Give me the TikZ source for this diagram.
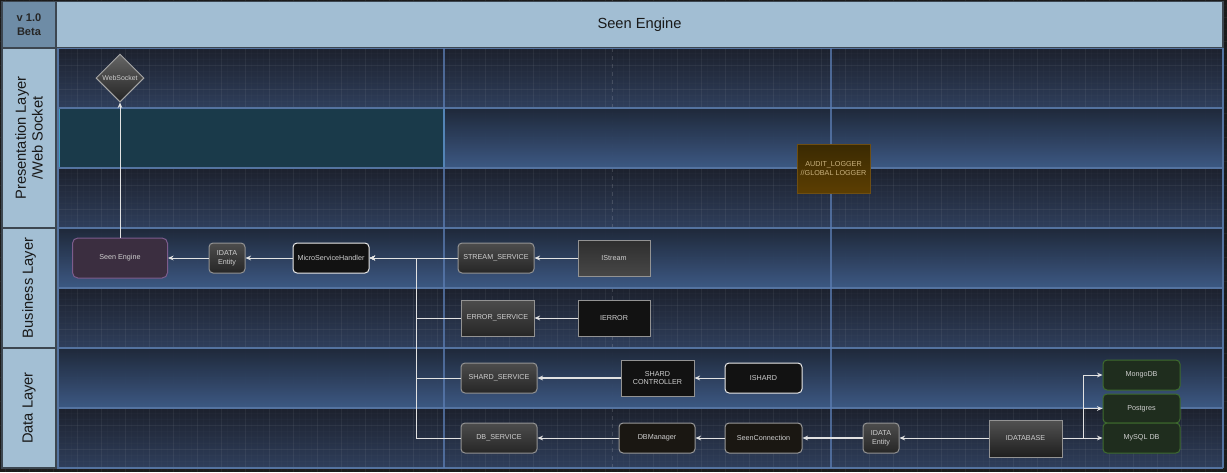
\documentclass[tikz,border=0pt]{standalone}
\usepackage{fontspec}
\setmainfont{Liberation Sans}
\usetikzlibrary{shapes.geometric,arrows.meta}

\definecolor{pagebg}{HTML}{1B1B1B}
\definecolor{hdrfill}{HTML}{A2BED3}
\definecolor{verfill}{HTML}{6E8CA6}
\definecolor{lanefill}{HTML}{A3BFD4}
\definecolor{framec}{HTML}{3C4650}
\definecolor{darktop}{HTML}{1C212D}
\definecolor{darkbot}{HTML}{2F3F5C}
\definecolor{bluetop}{HTML}{1F293B}
\definecolor{bluebot}{HTML}{3E5B87}
\definecolor{rowline}{HTML}{5473A0}
\definecolor{colline}{HTML}{5B7DB3}
\definecolor{tealfill}{HTML}{1A3A4A}
\definecolor{tealline}{HTML}{3C9CC0}
\definecolor{nodetext}{HTML}{CFCFCF}
\definecolor{wire}{HTML}{E2E2E2}
\definecolor{purplefill}{HTML}{3B2E40}
\definecolor{purpleline}{HTML}{7D5C8C}
\definecolor{greenfill}{HTML}{1F2D1E}
\definecolor{greenline}{HTML}{3E6B2E}
\definecolor{brownfill}{HTML}{1A1712}
\definecolor{audittop}{HTML}{3A2A02}
\definecolor{auditbot}{HTML}{5C3E02}
\definecolor{auditline}{HTML}{6E4E12}
\definecolor{audittext}{HTML}{CAB27E}

\tikzset{
  box/.style={inner sep=0pt, align=center, text=nodetext,
    font=\fontsize{5.4pt}{6.6pt}\selectfont, line width=0.75pt},
  graybox/.style={box, draw=gray!85, top color=black!70, bottom color=black!85},
  grayup/.style={box, draw=gray!85, top color=black!82, bottom color=black!72},
  blackbox/.style={box, draw=gray!85, fill=black!93},
  whitebox/.style={box, draw=white!92!black, fill=black!93, rounded corners=3pt},
  roundgray/.style={graybox, rounded corners=3pt},
  brownbox/.style={box, draw=gray!80, fill=brownfill, rounded corners=3pt},
  greenbox/.style={box, draw=greenline, fill=greenfill, rounded corners=3pt},
  conn/.style={draw=wire, line width=0.7pt, -{Stealth[length=4.2pt,width=3.6pt]}},
  thickconn/.style={conn, line width=1.1pt},
  lanelabel/.style={rotate=90, align=center, text=black!90,
    font=\fontsize{11pt}{12.5pt}\selectfont},
}

\begin{document}
\begin{tikzpicture}[x=0.75pt,y=-0.75pt]
\useasboundingbox (0,0) rectangle (1227,472);
\fill[pagebg] (0,0) rectangle (1227,472);

% ---- swimlane rows (dark rows with grid, blue rows on top) ----
\foreach \t in {48,168,288,408}
  \shade[top color=darktop, bottom color=darkbot] (56,\t) rectangle (1223,\t+60);
\begin{scope}
  \clip (0,0) rectangle (1227,472);
  \foreach \x in {5,11,...,1227} \draw[white, opacity=0.015, line width=0.5pt] (\x,0) -- (\x,472);
  \foreach \y in {5,11,...,472} \draw[white, opacity=0.015, line width=0.5pt] (0,\y) -- (1227,\y);
  \foreach \x in {5,29,...,1227} \draw[white, opacity=0.045, line width=0.6pt] (\x,0) -- (\x,472);
  \foreach \y in {17,41,...,472} \draw[white, opacity=0.045, line width=0.6pt] (0,\y) -- (1227,\y);
\end{scope}
\draw[white, opacity=0.14, dash pattern=on 3pt off 3pt, line width=0.6pt] (612,0) -- (612,472);
\foreach \t in {108,228,348}
  \shade[top color=bluetop, bottom color=bluebot, opacity=0.97] (56,\t) rectangle (1223,\t+60);

% teal highlight in the second presentation row
\draw[tealline, fill=tealfill, line width=0.8pt] (59,108) rectangle (444,168);

% row separators
\foreach \y in {48,108,168,228,288,348,408,468}
  \draw[rowline, line width=1pt] (56,\y) -- (1223,\y);
\draw[rowline, line width=1pt] (1223,48) -- (1223,468);
\draw[rowline, line width=1.6pt] (57.5,48) -- (57.5,468);

% column separators
\foreach \x in {444,831}
  \draw[colline, opacity=0.75, line width=1.3pt] (\x,48) -- (\x,468);

% ---- header ----
\node[draw=framec, fill=verfill, line width=1pt, minimum width=40.5pt, minimum height=34.5pt,
  inner sep=0pt, align=center, font=\bfseries\fontsize{8.3pt}{10.5pt}\selectfont, text=black!85]
  (version) at (29,24.5) {v 1.0\\Beta};
\node[draw=framec, fill=hdrfill, line width=1pt, minimum width=875.25pt, minimum height=34.5pt,
  inner sep=0pt, font=\fontsize{11pt}{13pt}\selectfont, text=black!90]
  (title) at (639.5,24.5) {Seen Engine};

% ---- lane labels ----
\draw[framec, fill=lanefill, line width=1pt] (2,48) rectangle (56,228);
\draw[framec, fill=lanefill, line width=1pt] (2,228) rectangle (56,348);
\draw[framec, fill=lanefill, line width=1pt] (2,348) rectangle (56,468);
\node[lanelabel] (lpres) at (29,138) {Presentation Layer\\/Web Socket};
\node[lanelabel] (lbus) at (29,288) {Business Layer};
\node[lanelabel] (ldata) at (29,408) {Data Layer};

% ---- nodes ----
\node[diamond, box, draw=gray!70, top color=black!60, bottom color=black!86,
  minimum width=36pt, minimum height=36pt, font=\fontsize{5.2pt}{6pt}\selectfont, text=nodetext]
  (ws) at (120,78) {WebSocket};

\node[box, draw=purpleline, fill=purplefill, rounded corners=4pt,
  minimum width=71.25pt, minimum height=30pt] (seen) at (120,258) {Seen Engine};
\node[roundgray, minimum width=27pt, minimum height=22.5pt] (ent1) at (227,258) {IDATA\\Entity};
\node[whitebox, minimum width=57pt, minimum height=22.5pt] (msh) at (331,258) {MicroServiceHandler};

\node[roundgray, minimum width=57pt, minimum height=22.5pt] (stream) at (496,258) {STREAM\_SERVICE};
\node[grayup, minimum width=54pt, minimum height=27pt] (istream) at (614,258) {IStream};

\node[graybox, minimum width=54.75pt, minimum height=27pt] (err) at (497.5,318) {ERROR\_SERVICE};
\node[blackbox, minimum width=54pt, minimum height=27pt] (ierr) at (614,318) {IERROR};

\node[roundgray, minimum width=57pt, minimum height=22.5pt] (shsvc) at (499,378) {SHARD\_SERVICE};
\node[blackbox, minimum width=54.75pt, minimum height=27pt] (shctl) at (657.5,378) {SHARD\\CONTROLLER};
\node[whitebox, minimum width=57.75pt, minimum height=22.5pt] (ishard) at (763.5,378) {ISHARD};

\node[roundgray, minimum width=57pt, minimum height=22.5pt] (dbsvc) at (499,438) {DB\_SERVICE};
\node[brownbox, minimum width=57pt, minimum height=22.5pt] (dbm) at (657,438) {DBManager};
\node[brownbox, minimum width=57.75pt, minimum height=22.5pt] (conn) at (763.5,438) {SeenConnection};
\node[roundgray, minimum width=27pt, minimum height=22.5pt] (ent2) at (881,438) {IDATA\\Entity};
\node[box, draw=gray!85, top color=black!68, bottom color=black!88,
  minimum width=54.75pt, minimum height=27.75pt] (idb) at (1025.5,438.5) {IDATABASE};

\node[greenbox, minimum width=57.75pt, minimum height=22.5pt] (mongo) at (1141.5,375) {MongoDB};
\node[greenbox, minimum width=57.75pt, minimum height=21.75pt] (pg) at (1141.5,408.5) {Postgres};
\node[greenbox, minimum width=57.75pt, minimum height=22.5pt] (mysql) at (1141.5,438) {MySQL DB};

\node[box, draw=auditline, top color=audittop, bottom color=auditbot, text=audittext,
  minimum width=54.75pt, minimum height=36.75pt] (audit) at (833.5,168.5) {AUDIT\_LOGGER\\//GLOBAL LOGGER};

% ---- connectors ----
\coordinate (svcbus) at (416,0);
\coordinate (dbbus) at (1083,0);

\draw[conn] (seen.north) -- (ws.south);
\draw[conn] (ent1.west) -- (seen.east);
\draw[conn] (msh.west) -- (ent1.east);

\draw[conn] (stream.west) -- (msh.east);
\draw[conn] (err.west) -- (err.west -| svcbus) |- (msh.east);
\draw[conn] (shsvc.west) -- (shsvc.west -| svcbus) |- (msh.east);
\draw[conn] (dbsvc.west) -- (dbsvc.west -| svcbus) |- (msh.east);

\draw[conn] (istream.west) -- (stream.east);
\draw[conn] (ierr.west) -- (err.east);
\draw[thickconn] (shctl.west) -- (shsvc.east);
\draw[conn] (ishard.west) -- (shctl.east);

\draw[conn] (dbm.west) -- (dbsvc.east);
\draw[conn] (conn.west) -- (dbm.east);
\draw[thickconn] (ent2.west) -- (conn.east);
\draw[conn] (idb.west |- ent2.east) -- (ent2.east);

\draw[conn] (idb.east |- mysql.west) -- (mysql.west);
\draw[conn] (idb.east |- mysql.west) -- (mysql.west -| dbbus) |- (pg.west);
\draw[conn] (idb.east |- mysql.west) -- (mysql.west -| dbbus) |- (mongo.west);
\end{tikzpicture}
\end{document}
